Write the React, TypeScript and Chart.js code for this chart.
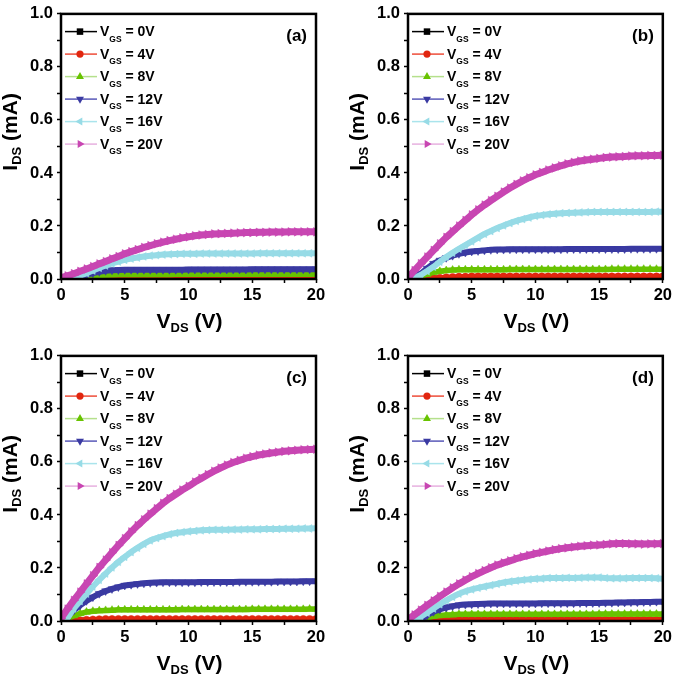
import React, { useEffect, useRef } from 'react';
import { Chart, registerables } from 'chart.js';

Chart.register(...registerables);

// ---------- data ----------
const vds = [
  0, 0.5, 1, 1.5, 2, 2.5, 3, 3.5, 4, 4.5,
  5, 5.5, 6, 6.5, 7, 7.5, 8, 8.5, 9, 9.5,
  10, 10.5, 11, 11.5, 12, 12.5, 13, 13.5, 14, 14.5,
  15, 15.5, 16, 16.5, 17, 17.5, 18, 18.5, 19, 19.5,
  20,
];

const seriesLabels = ['0V', '4V', '8V', '12V', '16V', '20V'];
const panelLabels = ['(a)', '(b)', '(c)', '(d)'];
const xTickLabels = ['0', '5', '10', '15', '20'];
const yTickLabels = ['0.0', '0.2', '0.4', '0.6', '0.8', '1.0'];

const zeros = [
  0, 0, 0, 0, 0, 0, 0, 0, 0, 0,
  0, 0, 0, 0, 0, 0, 0, 0, 0, 0,
  0, 0, 0, 0, 0, 0, 0, 0, 0, 0,
  0, 0, 0, 0, 0, 0, 0, 0, 0, 0,
  0,
];

// panel (a)
const a0 = zeros;
const a4 = [
  0, 0, 0, 0, 0.001, 0.002, 0.003, 0.004, 0.004, 0.005,
  0.005, 0.005, 0.005, 0.005, 0.005, 0.005, 0.005, 0.005, 0.005, 0.005,
  0.005, 0.005, 0.005, 0.005, 0.005, 0.005, 0.005, 0.005, 0.005, 0.005,
  0.005, 0.005, 0.005, 0.005, 0.005, 0.005, 0.005, 0.005, 0.005, 0.005,
  0.005,
];
const a8 = [
  0, 0, 0, 0.003, 0.007, 0.010, 0.013, 0.015, 0.016, 0.017,
  0.017, 0.017, 0.017, 0.017, 0.017, 0.017, 0.017, 0.017, 0.018, 0.018,
  0.018, 0.018, 0.018, 0.018, 0.018, 0.018, 0.018, 0.018, 0.018, 0.018,
  0.018, 0.018, 0.018, 0.018, 0.018, 0.018, 0.018, 0.018, 0.018, 0.018,
  0.018,
];
const a12 = [
  0, 0, 0.002, 0.009, 0.016, 0.022, 0.027, 0.031, 0.033, 0.034,
  0.035, 0.035, 0.035, 0.035, 0.035, 0.035, 0.035, 0.035, 0.035, 0.035,
  0.036, 0.036, 0.036, 0.036, 0.036, 0.036, 0.036, 0.036, 0.036, 0.036,
  0.037, 0.037, 0.037, 0.037, 0.037, 0.037, 0.037, 0.037, 0.037, 0.037,
  0.037,
];
const a16 = [
  0, 0, 0.004, 0.012, 0.022, 0.032, 0.042, 0.051, 0.059, 0.066,
  0.072, 0.077, 0.081, 0.085, 0.088, 0.090, 0.092, 0.093, 0.094, 0.095,
  0.095, 0.095, 0.096, 0.096, 0.096, 0.096, 0.096, 0.096, 0.096, 0.096,
  0.096, 0.097, 0.097, 0.097, 0.097, 0.097, 0.097, 0.097, 0.097, 0.097,
  0.097,
];
const a20 = [
  0.005, 0.012, 0.020, 0.029, 0.038, 0.047, 0.057, 0.066, 0.076, 0.085,
  0.095, 0.103, 0.111, 0.119, 0.126, 0.133, 0.139, 0.145, 0.150, 0.155,
  0.159, 0.163, 0.166, 0.168, 0.170, 0.171, 0.172, 0.173, 0.174, 0.175,
  0.175, 0.176, 0.176, 0.177, 0.177, 0.177, 0.178, 0.178, 0.178, 0.178,
  0.178,
];

// panel (b)
const b0 = zeros;
const b4 = [
  0, 0, 0, 0.001, 0.003, 0.005, 0.007, 0.008, 0.009, 0.009,
  0.010, 0.010, 0.010, 0.010, 0.010, 0.010, 0.010, 0.010, 0.010, 0.010,
  0.010, 0.010, 0.010, 0.010, 0.010, 0.010, 0.010, 0.010, 0.010, 0.010,
  0.010, 0.010, 0.010, 0.010, 0.010, 0.010, 0.010, 0.010, 0.010, 0.010,
  0.010,
];
const b8 = [
  0, 0.001, 0.010, 0.018, 0.025, 0.029, 0.032, 0.034, 0.035, 0.035,
  0.035, 0.035, 0.035, 0.035, 0.035, 0.035, 0.036, 0.036, 0.036, 0.036,
  0.036, 0.036, 0.036, 0.036, 0.036, 0.036, 0.036, 0.036, 0.036, 0.036,
  0.036, 0.036, 0.037, 0.037, 0.037, 0.037, 0.037, 0.037, 0.037, 0.037,
  0.037,
];
const b12 = [
  0, 0.002, 0.020, 0.040, 0.058, 0.070, 0.080, 0.088, 0.095, 0.100,
  0.104, 0.106, 0.108, 0.110, 0.111, 0.111, 0.112, 0.112, 0.112, 0.112,
  0.112, 0.112, 0.112, 0.112, 0.112, 0.113, 0.113, 0.113, 0.113, 0.113,
  0.113, 0.113, 0.113, 0.113, 0.113, 0.114, 0.114, 0.114, 0.114, 0.114,
  0.114,
];
const b16 = [
  0, 0.003, 0.015, 0.030, 0.046, 0.065, 0.083, 0.099, 0.114, 0.128,
  0.142, 0.156, 0.170, 0.181, 0.192, 0.202, 0.211, 0.219, 0.226, 0.232,
  0.238, 0.241, 0.244, 0.246, 0.248, 0.249, 0.250, 0.251, 0.252, 0.253,
  0.253, 0.253, 0.253, 0.253, 0.253, 0.253, 0.253, 0.253, 0.253, 0.254,
  0.254,
];
const b20 = [
  0.005, 0.032, 0.058, 0.083, 0.108, 0.133, 0.157, 0.179, 0.200, 0.221,
  0.242, 0.261, 0.279, 0.296, 0.312, 0.328, 0.343, 0.357, 0.370, 0.382,
  0.393, 0.402, 0.411, 0.419, 0.427, 0.434, 0.440, 0.445, 0.449, 0.452,
  0.455, 0.458, 0.460, 0.461, 0.462, 0.464, 0.465, 0.465, 0.466, 0.466,
  0.467,
];

// panel (c)
const c0 = zeros;
const c4 = [
  0, 0, 0.001, 0.003, 0.005, 0.006, 0.007, 0.008, 0.008, 0.008,
  0.008, 0.008, 0.008, 0.008, 0.008, 0.008, 0.008, 0.008, 0.008, 0.008,
  0.008, 0.008, 0.008, 0.008, 0.008, 0.008, 0.008, 0.008, 0.008, 0.008,
  0.008, 0.008, 0.008, 0.008, 0.008, 0.008, 0.008, 0.008, 0.008, 0.008,
  0.008,
];
const c8 = [
  0, 0.008, 0.020, 0.028, 0.034, 0.037, 0.039, 0.040, 0.041, 0.042,
  0.042, 0.042, 0.042, 0.042, 0.042, 0.042, 0.042, 0.042, 0.042, 0.043,
  0.043, 0.043, 0.043, 0.043, 0.043, 0.043, 0.043, 0.043, 0.043, 0.043,
  0.044, 0.044, 0.044, 0.044, 0.044, 0.044, 0.044, 0.044, 0.044, 0.045,
  0.045,
];
const c12 = [
  0, 0.015, 0.040, 0.059, 0.076, 0.090, 0.103, 0.113, 0.121, 0.128,
  0.134, 0.137, 0.140, 0.142, 0.144, 0.145, 0.146, 0.146, 0.146, 0.146,
  0.146, 0.146, 0.147, 0.147, 0.147, 0.147, 0.147, 0.147, 0.148, 0.148,
  0.148, 0.148, 0.148, 0.148, 0.149, 0.149, 0.149, 0.149, 0.150, 0.150,
  0.150,
];
const c16 = [
  0, 0.010, 0.047, 0.075, 0.103, 0.130, 0.155, 0.179, 0.202, 0.223,
  0.242, 0.260, 0.276, 0.291, 0.304, 0.313, 0.320, 0.327, 0.332, 0.335,
  0.338, 0.340, 0.342, 0.343, 0.344, 0.344, 0.344, 0.345, 0.345, 0.346,
  0.346, 0.346, 0.347, 0.347, 0.347, 0.348, 0.348, 0.348, 0.349, 0.349,
  0.350,
];
const c20 = [
  0.010, 0.045, 0.078, 0.109, 0.140, 0.171, 0.202, 0.230, 0.258, 0.285,
  0.311, 0.336, 0.360, 0.382, 0.403, 0.424, 0.444, 0.462, 0.478, 0.494,
  0.508, 0.524, 0.538, 0.552, 0.565, 0.577, 0.588, 0.598, 0.606, 0.614,
  0.620, 0.626, 0.630, 0.634, 0.637, 0.640, 0.642, 0.644, 0.646, 0.647,
  0.648,
];

// panel (d)
const d0 = zeros;
const d4 = [
  0, 0, 0, 0.001, 0.002, 0.003, 0.003, 0.004, 0.004, 0.004,
  0.004, 0.004, 0.004, 0.004, 0.004, 0.004, 0.004, 0.004, 0.004, 0.004,
  0.004, 0.004, 0.004, 0.004, 0.004, 0.004, 0.004, 0.004, 0.004, 0.004,
  0.005, 0.005, 0.005, 0.005, 0.005, 0.005, 0.005, 0.005, 0.005, 0.005,
  0.005,
];
const d8 = [
  0, 0, 0.005, 0.012, 0.018, 0.021, 0.023, 0.024, 0.025, 0.025,
  0.025, 0.025, 0.025, 0.025, 0.025, 0.025, 0.025, 0.025, 0.025, 0.025,
  0.025, 0.025, 0.025, 0.025, 0.025, 0.025, 0.025, 0.025, 0.025, 0.025,
  0.026, 0.026, 0.026, 0.026, 0.026, 0.026, 0.026, 0.026, 0.026, 0.026,
  0.026,
];
const d12 = [
  0, 0, 0.006, 0.022, 0.035, 0.044, 0.051, 0.056, 0.060, 0.062,
  0.063, 0.064, 0.065, 0.066, 0.066, 0.066, 0.066, 0.066, 0.066, 0.066,
  0.066, 0.067, 0.067, 0.067, 0.067, 0.067, 0.067, 0.068, 0.068, 0.068,
  0.068, 0.069, 0.069, 0.070, 0.070, 0.071, 0.071, 0.072, 0.072, 0.073,
  0.073,
];
const d16 = [
  0, 0, 0.016, 0.031, 0.047, 0.063, 0.078, 0.091, 0.103, 0.112,
  0.119, 0.125, 0.130, 0.135, 0.140, 0.145, 0.149, 0.152, 0.155, 0.157,
  0.159, 0.160, 0.162, 0.162, 0.162, 0.163, 0.162, 0.163, 0.164, 0.164,
  0.164, 0.162, 0.161, 0.161, 0.161, 0.162, 0.162, 0.162, 0.162, 0.161,
  0.159,
];
const d20 = [
  0.005, 0.023, 0.041, 0.059, 0.076, 0.093, 0.109, 0.125, 0.140, 0.154,
  0.167, 0.179, 0.190, 0.201, 0.211, 0.219, 0.227, 0.235, 0.242, 0.248,
  0.254, 0.259, 0.264, 0.269, 0.273, 0.276, 0.279, 0.282, 0.284, 0.286,
  0.287, 0.289, 0.291, 0.292, 0.292, 0.291, 0.291, 0.290, 0.291, 0.291,
  0.292,
];

// ---------- styles ----------
const FF = '"Liberation Sans", Arial, Helvetica, sans-serif';
const markerColors = ['#000000', '#e1260f', '#68c300', '#3a3aa2', '#97dbe6', '#c846b2'];
const lineColors = ['#000000', '#ee4c38', '#b5e08c', '#5858b8', '#aae4ec', '#e7b0df'];
const pointStyles = ['rect', 'circle', 'triangle', 'triangle', 'triangle', 'triangle'];
const rotations = [0, 0, 0, 180, -90, 90];
const radii = [4.5, 3.5, 4.5, 4.5, 4.5, 5];
const bandWidths = [5, 5, 5.5, 6, 6, 7];

type PanelDef = {
  label: string;
  series: number[][];
  left: number;
  top: number;
  width: number;
  height: number;
  plotWidth: number;
};

const panels: PanelDef[] = [
  { label: panelLabels[0], series: [a0, a4, a8, a12, a16, a20], left: 0, top: 0, width: 340, height: 342, plotWidth: 255 },
  { label: panelLabels[1], series: [b0, b4, b8, b12, b16, b20], left: 347, top: 0, width: 328, height: 342, plotWidth: 257 },
  { label: panelLabels[2], series: [c0, c4, c8, c12, c16, c20], left: 0, top: 342, width: 340, height: 334, plotWidth: 255 },
  { label: panelLabels[3], series: [d0, d4, d8, d12, d16, d20], left: 347, top: 342, width: 328, height: 334, plotWidth: 257 },
];

function drawMarker(ctx: CanvasRenderingContext2D, style: string, rot: number, x: number, y: number, r: number) {
  ctx.beginPath();
  if (style === 'circle') {
    ctx.arc(x, y, r, 0, Math.PI * 2);
  } else if (style === 'rect') {
    const s = r * Math.SQRT1_2;
    ctx.rect(x - s, y - s, 2 * s, 2 * s);
  } else {
    let a = (rot * Math.PI) / 180;
    ctx.moveTo(x + Math.sin(a) * r, y - Math.cos(a) * r);
    a += (2 * Math.PI) / 3;
    ctx.lineTo(x + Math.sin(a) * r, y - Math.cos(a) * r);
    a += (2 * Math.PI) / 3;
    ctx.lineTo(x + Math.sin(a) * r, y - Math.cos(a) * r);
    ctx.closePath();
  }
  ctx.fill();
}

function subWidth(ctx: CanvasRenderingContext2D, main: string, sub: string, rest: string, ms: number, ss: number) {
  ctx.font = `bold ${ms}px ${FF}`;
  let w = ctx.measureText(main).width + ctx.measureText(rest).width;
  ctx.font = `bold ${ss}px ${FF}`;
  w += ctx.measureText(sub).width;
  return w;
}

function subText(ctx: CanvasRenderingContext2D, x: number, y: number, main: string, sub: string, rest: string, ms: number, ss: number, drop: number) {
  ctx.textAlign = 'left';
  ctx.textBaseline = 'alphabetic';
  ctx.font = `bold ${ms}px ${FF}`;
  ctx.fillText(main, x, y);
  x += ctx.measureText(main).width;
  ctx.font = `bold ${ss}px ${FF}`;
  ctx.fillText(sub, x, y + drop);
  x += ctx.measureText(sub).width;
  ctx.font = `bold ${ms}px ${FF}`;
  ctx.fillText(rest, x, y);
}

function makeDecor(def: PanelDef) {
  return {
    id: 'decor',
    afterDatasetsDraw(chart: any) {
      const ctx: CanvasRenderingContext2D = chart.ctx;
      const ca = chart.chartArea;
      ctx.save();
      // frame
      ctx.strokeStyle = '#000';
      ctx.lineWidth = 2.5;
      ctx.strokeRect(ca.left, ca.top, ca.right - ca.left, ca.bottom - ca.top);

      // legend
      for (let i = 0; i < seriesLabels.length; i++) {
        const y = ca.top + 17.7 + i * 22.5;
        ctx.strokeStyle = lineColors[i];
        ctx.lineWidth = 1.5;
        ctx.beginPath();
        ctx.moveTo(ca.left + 4, y);
        ctx.lineTo(ca.left + 36, y);
        ctx.stroke();
        ctx.fillStyle = markerColors[i];
        drawMarker(ctx, pointStyles[i], rotations[i], ca.left + 19, y, i === 1 ? 3.6 : 4.6);
        ctx.fillStyle = '#000';
        subText(ctx, ca.left + 39, y + 4.8, 'V', 'GS', ' = ' + seriesLabels[i], 14, 8.5, 5.3);
      }

      // panel label
      ctx.fillStyle = '#000';
      ctx.font = `bold 17px ${FF}`;
      ctx.textAlign = 'right';
      ctx.textBaseline = 'alphabetic';
      ctx.fillText(def.label, ca.right - 9, ca.top + 27);

      // x title
      const xw = subWidth(ctx, 'V', 'DS', ' (V)', 21, 13);
      subText(ctx, (ca.left + ca.right) / 2 + 1 - xw / 2, ca.bottom + 49, 'V', 'DS', ' (V)', 21, 13, 4);

      // y title
      const yw = subWidth(ctx, 'I', 'DS', ' (mA)', 21, 13);
      ctx.translate(ca.left - 44, ca.top + 118);
      ctx.rotate(-Math.PI / 2);
      subText(ctx, -yw / 2, 0, 'I', 'DS', ' (mA)', 21, 13, 4);
      ctx.restore();
    },
  };
}

function Panel({ def }: { def: PanelDef }) {
  const ref = useRef<HTMLCanvasElement>(null);
  useEffect(() => {
    const canvas = ref.current;
    if (!canvas) return;
    const chart = new Chart(canvas, {
      type: 'line',
      data: {
        datasets: def.series.map((arr, i) => ({
          label: 'VGS = ' + seriesLabels[i],
          data: vds.map((x, j) => ({ x, y: arr[j] })),
          borderColor: markerColors[i],
          backgroundColor: markerColors[i],
          borderWidth: bandWidths[i],
          borderJoinStyle: 'round',
          pointStyle: pointStyles[i] as any,
          pointRotation: rotations[i],
          pointRadius: radii[i],
          pointBorderWidth: 0.5,
          pointBackgroundColor: markerColors[i],
          pointBorderColor: markerColors[i],
          order: 5 - i,
        })),
      },
      options: {
        responsive: false,
        animation: false,
        events: [],
        layout: { padding: { left: 0, top: 10, right: def.width - 61 - def.plotWidth, bottom: 0 } },
        plugins: { legend: { display: false }, tooltip: { enabled: false } },
        scales: {
          x: {
            type: 'linear',
            min: 0,
            max: 20,
            ticks: {
              stepSize: 2.5,
              autoSkip: false,
              maxRotation: 0,
              color: '#000',
              padding: 3,
              font: { family: FF, size: 16.5, weight: 'bold' },
              callback: (v: any) => {
                const n = Number(v);
                const idx = xTickLabels.indexOf(String(Math.round(n)));
                return Math.abs(n - Math.round(n / 5) * 5) < 1e-6 && idx >= 0 ? xTickLabels[idx] : '';
              },
            },
            grid: { drawOnChartArea: false, drawTicks: true, tickLength: 4, tickColor: '#000', tickWidth: 1.5 },
            border: { display: false },
            afterFit: (s: any) => {
              s.height = def.height - 279;
            },
          },
          y: {
            type: 'linear',
            min: 0,
            max: 1,
            ticks: {
              stepSize: 0.1,
              autoSkip: false,
              color: '#000',
              padding: 4,
              font: { family: FF, size: 16.5, weight: 'bold' },
              callback: (v: any) => {
                const k = Math.round(Number(v) * 10);
                return k % 2 === 0 ? yTickLabels[k / 2] : '';
              },
            },
            grid: { drawOnChartArea: false, drawTicks: true, tickLength: 4, tickColor: '#000', tickWidth: 1.5 },
            border: { display: false },
            afterFit: (s: any) => {
              s.width = 61;
            },
          },
        },
      } as any,
      plugins: [makeDecor(def)],
    });
    return () => chart.destroy();
  }, [def]);
  return (
    <canvas
      ref={ref}
      width={def.width}
      height={def.height}
      style={{ position: 'absolute', left: def.left, top: def.top, width: def.width, height: def.height }}
    />
  );
}

export default function App() {
  return (
    <div style={{ position: 'absolute', left: 0, top: 0, width: 675, height: 676, background: '#fff', overflow: 'hidden' }}>
      {panels.map((p) => (
        <Panel key={p.label} def={p} />
      ))}
    </div>
  );
}
